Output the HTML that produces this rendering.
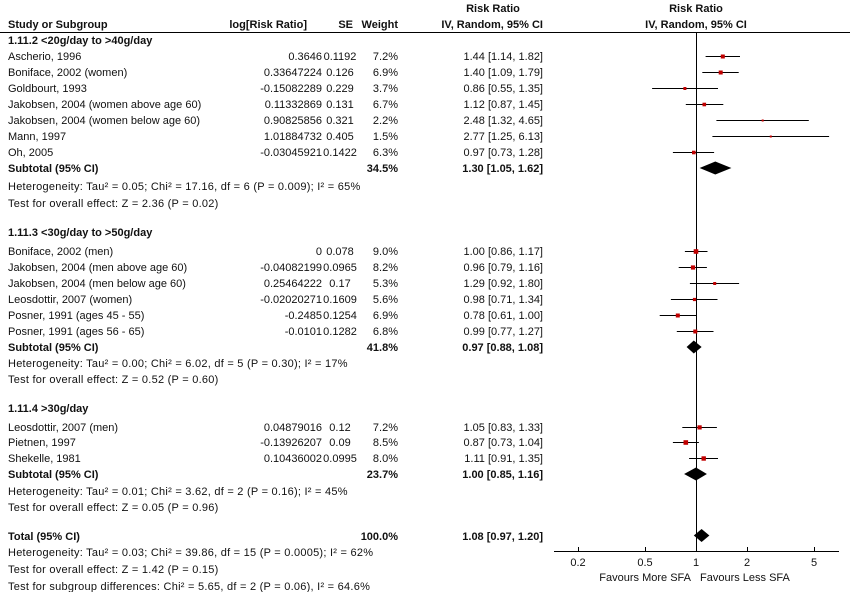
<!DOCTYPE html>
<html><head><meta charset="utf-8"><style>
body{margin:0;background:#fff}
svg{display:block;font-family:"Liberation Sans",Arial,sans-serif;font-size:11px;fill:#111}
.b{font-weight:bold}
.r{text-anchor:end}
.c{text-anchor:middle}
.h{letter-spacing:0.25px}
</style></head><body>
<svg width="850" height="592" viewBox="0 0 850 592" xmlns="http://www.w3.org/2000/svg">
<text class="b c" x="493" y="12">Risk Ratio</text>
<text class="b c" x="696" y="12">Risk Ratio</text>
<text class="b" x="8" y="28">Study or Subgroup</text>
<text class="b r" x="307" y="28">log[Risk Ratio]</text>
<text class="b r" x="353" y="28">SE</text>
<text class="b r" x="398" y="28">Weight</text>
<text class="b r" x="543" y="28">IV, Random, 95% CI</text>
<text class="b c" x="696" y="28">IV, Random, 95% CI</text>
<line x1="0" y1="32.5" x2="850" y2="32.5" stroke="#000"/>
<line x1="696.5" y1="32" x2="696.5" y2="551" stroke="#000"/>

<text class="b" x="8" y="44">1.11.2 &lt;20g/day to &gt;40g/day</text>
<text x="8" y="60">Ascherio, 1996</text><text class="r" x="322" y="60">0.3646</text><text class="c" x="340" y="60">0.1192</text><text class="r" x="398" y="60">7.2%</text><text class="r" x="543" y="60">1.44 [1.14, 1.82]</text>
<text x="8" y="76">Boniface, 2002 (women)</text><text class="r" x="322" y="76">0.33647224</text><text class="c" x="340" y="76">0.126</text><text class="r" x="398" y="76">6.9%</text><text class="r" x="543" y="76">1.40 [1.09, 1.79]</text>
<text x="8" y="92">Goldbourt, 1993</text><text class="r" x="322" y="92">-0.15082289</text><text class="c" x="340" y="92">0.229</text><text class="r" x="398" y="92">3.7%</text><text class="r" x="543" y="92">0.86 [0.55, 1.35]</text>
<text x="8" y="108">Jakobsen, 2004 (women above age 60)</text><text class="r" x="322" y="108">0.11332869</text><text class="c" x="340" y="108">0.131</text><text class="r" x="398" y="108">6.7%</text><text class="r" x="543" y="108">1.12 [0.87, 1.45]</text>
<text x="8" y="124">Jakobsen, 2004 (women below age 60)</text><text class="r" x="322" y="124">0.90825856</text><text class="c" x="340" y="124">0.321</text><text class="r" x="398" y="124">2.2%</text><text class="r" x="543" y="124">2.48 [1.32, 4.65]</text>
<text x="8" y="140">Mann, 1997</text><text class="r" x="322" y="140">1.01884732</text><text class="c" x="340" y="140">0.405</text><text class="r" x="398" y="140">1.5%</text><text class="r" x="543" y="140">2.77 [1.25, 6.13]</text>
<text x="8" y="156">Oh, 2005</text><text class="r" x="322" y="156">-0.03045921</text><text class="c" x="340" y="156">0.1422</text><text class="r" x="398" y="156">6.3%</text><text class="r" x="543" y="156">0.97 [0.73, 1.28]</text>
<text class="b" x="8" y="172">Subtotal (95% CI)</text><text class="b r" x="398" y="172">34.5%</text><text class="b r" x="543" y="172">1.30 [1.05, 1.62]</text>
<text class="h" x="8" y="190">Heterogeneity: Tau² = 0.05; Chi² = 17.16, df = 6 (P = 0.009); I² = 65%</text>
<text class="h" x="8" y="207">Test for overall effect: Z = 2.36 (P = 0.02)</text>

<text class="b" x="8" y="236">1.11.3 &lt;30g/day to &gt;50g/day</text>
<text x="8" y="255">Boniface, 2002 (men)</text><text class="r" x="322" y="255">0</text><text class="c" x="340" y="255">0.078</text><text class="r" x="398" y="255">9.0%</text><text class="r" x="543" y="255">1.00 [0.86, 1.17]</text>
<text x="8" y="271">Jakobsen, 2004 (men above age 60)</text><text class="r" x="322" y="271">-0.04082199</text><text class="c" x="340" y="271">0.0965</text><text class="r" x="398" y="271">8.2%</text><text class="r" x="543" y="271">0.96 [0.79, 1.16]</text>
<text x="8" y="287">Jakobsen, 2004 (men below age 60)</text><text class="r" x="322" y="287">0.25464222</text><text class="c" x="340" y="287">0.17</text><text class="r" x="398" y="287">5.3%</text><text class="r" x="543" y="287">1.29 [0.92, 1.80]</text>
<text x="8" y="303">Leosdottir, 2007 (women)</text><text class="r" x="322" y="303">-0.02020271</text><text class="c" x="340" y="303">0.1609</text><text class="r" x="398" y="303">5.6%</text><text class="r" x="543" y="303">0.98 [0.71, 1.34]</text>
<text x="8" y="319">Posner, 1991 (ages 45 - 55)</text><text class="r" x="322" y="319">-0.2485</text><text class="c" x="340" y="319">0.1254</text><text class="r" x="398" y="319">6.9%</text><text class="r" x="543" y="319">0.78 [0.61, 1.00]</text>
<text x="8" y="335">Posner, 1991 (ages 56 - 65)</text><text class="r" x="322" y="335">-0.0101</text><text class="c" x="340" y="335">0.1282</text><text class="r" x="398" y="335">6.8%</text><text class="r" x="543" y="335">0.99 [0.77, 1.27]</text>
<text class="b" x="8" y="351">Subtotal (95% CI)</text><text class="b r" x="398" y="351">41.8%</text><text class="b r" x="543" y="351">0.97 [0.88, 1.08]</text>
<text class="h" x="8" y="367">Heterogeneity: Tau² = 0.00; Chi² = 6.02, df = 5 (P = 0.30); I² = 17%</text>
<text class="h" x="8" y="383">Test for overall effect: Z = 0.52 (P = 0.60)</text>

<text class="b" x="8" y="412">1.11.4 &gt;30g/day</text>
<text x="8" y="431">Leosdottir, 2007 (men)</text><text class="r" x="322" y="431">0.04879016</text><text class="c" x="340" y="431">0.12</text><text class="r" x="398" y="431">7.2%</text><text class="r" x="543" y="431">1.05 [0.83, 1.33]</text>
<text x="8" y="446">Pietnen, 1997</text><text class="r" x="322" y="446">-0.13926207</text><text class="c" x="340" y="446">0.09</text><text class="r" x="398" y="446">8.5%</text><text class="r" x="543" y="446">0.87 [0.73, 1.04]</text>
<text x="8" y="462">Shekelle, 1981</text><text class="r" x="322" y="462">0.10436002</text><text class="c" x="340" y="462">0.0995</text><text class="r" x="398" y="462">8.0%</text><text class="r" x="543" y="462">1.11 [0.91, 1.35]</text>
<text class="b" x="8" y="478">Subtotal (95% CI)</text><text class="b r" x="398" y="478">23.7%</text><text class="b r" x="543" y="478">1.00 [0.85, 1.16]</text>
<text class="h" x="8" y="495">Heterogeneity: Tau² = 0.01; Chi² = 3.62, df = 2 (P = 0.16); I² = 45%</text>
<text class="h" x="8" y="511">Test for overall effect: Z = 0.05 (P = 0.96)</text>

<text class="b" x="8" y="540">Total (95% CI)</text><text class="b r" x="398" y="540">100.0%</text><text class="b r" x="543" y="540">1.08 [0.97, 1.20]</text>
<text class="h" x="8" y="556">Heterogeneity: Tau² = 0.03; Chi² = 39.86, df = 15 (P = 0.0005); I² = 62%</text>
<text class="h" x="8" y="573">Test for overall effect: Z = 1.42 (P = 0.15)</text>
<text class="h" x="8" y="590">Test for subgroup differences: Chi² = 5.65, df = 2 (P = 0.06), I² = 64.6%</text>

<g stroke="#000" stroke-width="1">
<line x1="705.6" y1="56.5" x2="740" y2="56.5"/>
<line x1="702.3" y1="72.5" x2="738.7" y2="72.5"/>
<line x1="652.1" y1="88.5" x2="718" y2="88.5"/>
<line x1="685.8" y1="104.5" x2="723.3" y2="104.5"/>
<line x1="716.4" y1="120.5" x2="808.8" y2="120.5"/>
<line x1="712.4" y1="136.5" x2="829.1" y2="136.5"/>
<line x1="672.9" y1="152.5" x2="714.1" y2="152.5"/>
<line x1="684.9" y1="251.5" x2="707.5" y2="251.5"/>
<line x1="678.7" y1="267.5" x2="706.9" y2="267.5"/>
<line x1="689.9" y1="283.5" x2="739.1" y2="283.5"/>
<line x1="670.9" y1="299.5" x2="717.5" y2="299.5"/>
<line x1="659.7" y1="315.5" x2="696" y2="315.5"/>
<line x1="676.8" y1="331.5" x2="713.5" y2="331.5"/>
<line x1="682.3" y1="427.5" x2="716.9" y2="427.5"/>
<line x1="672.9" y1="442.5" x2="698.9" y2="442.5"/>
<line x1="689.1" y1="458.5" x2="718" y2="458.5"/>
</g>
<g fill="#c00000">
<rect x="720.8" y="54.5" width="4" height="4"/>
<rect x="718.7" y="70.5" width="4" height="4"/>
<rect x="683.4" y="87" width="3" height="3"/>
<rect x="702.5" y="102.7" width="3.6" height="3.6"/>
<rect x="761.7" y="119.5" width="2" height="2"/>
<rect x="769.8" y="135.5" width="2" height="2"/>
<rect x="692" y="150.7" width="3.6" height="3.6"/>
<rect x="693.7" y="249.2" width="4.6" height="4.6"/>
<rect x="690.9" y="265.4" width="4.2" height="4.2"/>
<rect x="713.2" y="282" width="3" height="3"/>
<rect x="692.9" y="297.9" width="3.2" height="3.2"/>
<rect x="675.8" y="313.5" width="4" height="4"/>
<rect x="693.3" y="329.5" width="4" height="4"/>
<rect x="697.5" y="425.3" width="4.2" height="4.2"/>
<rect x="683.5" y="440.2" width="4.6" height="4.6"/>
<rect x="701.5" y="456.3" width="4.4" height="4.4"/>
</g>
<g fill="#000">
<polygon points="699.6,168 715.3,161.5 731.4,168 715.3,174.5"/>
<polygon points="686.6,347 693.8,340.5 701.6,347 693.8,353.5"/>
<polygon points="684.1,474 696,467.5 706.9,474 696,480.5"/>
<polygon points="693.8,535.5 701.6,529 709.4,535.5 701.6,542"/>
</g>
<g stroke="#000">
<line x1="554" y1="551.5" x2="839" y2="551.5"/>
<line x1="578.5" y1="547" x2="578.5" y2="551"/>
<line x1="645.5" y1="547" x2="645.5" y2="551"/>
<line x1="696.5" y1="547" x2="696.5" y2="551"/>
<line x1="747.5" y1="547" x2="747.5" y2="551"/>
<line x1="814.5" y1="547" x2="814.5" y2="551"/>
</g>
<text class="c" x="578" y="566">0.2</text>
<text class="c" x="645" y="566">0.5</text>
<text class="c" x="696" y="566">1</text>
<text class="c" x="747" y="566">2</text>
<text class="c" x="814" y="566">5</text>
<text class="r" x="691" y="581">Favours More SFA</text>
<text x="700" y="581">Favours Less SFA</text>
</svg>
</body></html>
